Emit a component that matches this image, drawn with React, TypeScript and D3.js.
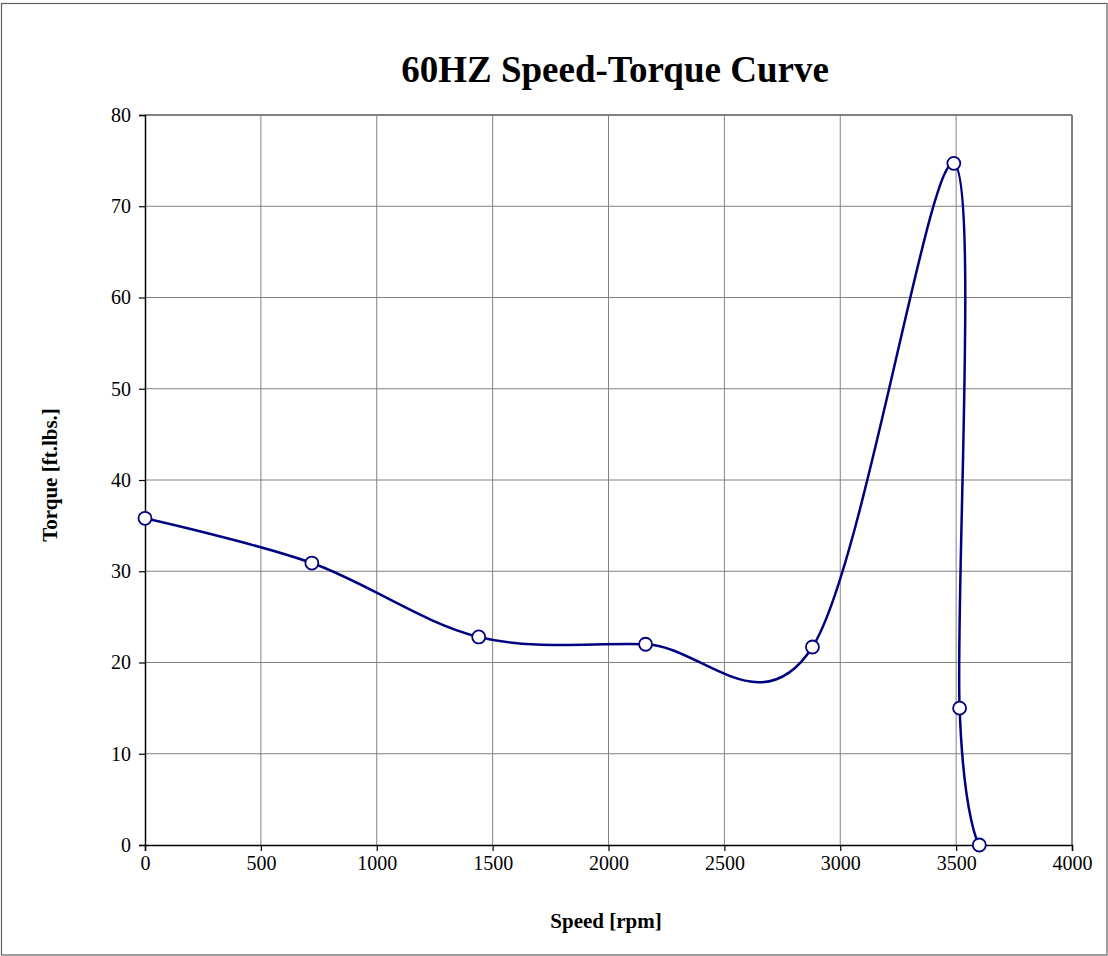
import { useEffect, useRef } from "react";
import * as d3 from "d3";

// Measured points of the 60 Hz curve
const speedRpm = [0, 720, 1440, 2160, 2880, 3490, 3515, 3600];
const torqueFtLbs = [35.8, 30.9, 22.8, 22.0, 21.7, 74.7, 15.0, 0];
const xTicks = [0, 500, 1000, 1500, 2000, 2500, 3000, 3500, 4000];
const yTicks = [0, 10, 20, 30, 40, 50, 60, 70, 80];

const App = () => {
  const svgRef = useRef<SVGSVGElement | null>(null);

  const width = 1108;
  const height = 956;
  const plot = { left: 145, top: 115, right: 1072, bottom: 845 };

  useEffect(() => {
    if (!svgRef.current) return;
    const svg = d3.select(svgRef.current);
    svg.selectAll("*").remove();

    const font = "'Liberation Serif', 'Times New Roman', serif";

    // outer frame
    svg.append("rect")
      .attr("x", 1.5).attr("y", 3.5)
      .attr("width", width - 2.5).attr("height", height - 4.5)
      .attr("fill", "#fff").attr("stroke", "#606060").attr("stroke-width", 1.2);

    const x = d3.scaleLinear().domain([0, 4000]).range([plot.left, plot.right]);
    const y = d3.scaleLinear().domain([0, 80]).range([plot.bottom, plot.top]);

    // grid
    const grid = svg.append("g").attr("stroke", "#808080").attr("stroke-width", 1);
    xTicks.slice(1).forEach((t) => {
      grid.append("line")
        .attr("x1", x(t)).attr("x2", x(t))
        .attr("y1", plot.top).attr("y2", plot.bottom);
    });
    yTicks.slice(1).forEach((t) => {
      grid.append("line")
        .attr("x1", plot.left).attr("x2", plot.right)
        .attr("y1", y(t)).attr("y2", y(t));
    });
    // right and top edges a bit heavier
    grid.append("line").attr("x1", plot.right).attr("x2", plot.right)
      .attr("y1", plot.top).attr("y2", plot.bottom).attr("stroke-width", 2);
    grid.append("line").attr("x1", plot.left).attr("x2", plot.right)
      .attr("y1", plot.top).attr("y2", plot.top).attr("stroke-width", 2);

    // axes
    const xAxis = d3.axisBottom(x).tickValues(xTicks).tickSize(6).tickPadding(5)
      .tickFormat((d) => String(d));
    const yAxis = d3.axisLeft(y).tickValues(yTicks).tickSize(6).tickPadding(8)
      .tickFormat((d) => String(d));

    const gx = svg.append("g").attr("transform", `translate(0,${plot.bottom})`).call(xAxis);
    const gy = svg.append("g").attr("transform", `translate(${plot.left},0)`).call(yAxis);
    [gx, gy].forEach((g) => {
      g.select(".domain").attr("stroke", "#000").attr("stroke-width", 1.5);
      g.selectAll(".tick line").attr("stroke", "#000").attr("stroke-width", 1.2);
      g.selectAll(".tick text")
        .attr("fill", "#000")
        .style("font-family", font)
        .style("font-size", "20px");
    });

    // curve
    const pts = speedRpm.map((s, i) => [s, torqueFtLbs[i]] as [number, number]);
    const line = d3.line<[number, number]>()
      .x((d) => x(d[0]))
      .y((d) => y(d[1]))
      .curve(d3.curveCardinal.tension(0));

    svg.append("path")
      .attr("d", line(pts))
      .attr("fill", "none")
      .attr("stroke", "#000080")
      .attr("stroke-width", 2.5);

    svg.append("g").selectAll("circle").data(pts).join("circle")
      .attr("cx", (d) => x(d[0]))
      .attr("cy", (d) => y(d[1]))
      .attr("r", 6.5)
      .attr("fill", "#fff")
      .attr("stroke", "#000080")
      .attr("stroke-width", 1.8);

    // titles
    svg.append("text")
      .attr("x", 615).attr("y", 82)
      .attr("text-anchor", "middle")
      .style("font-family", font).style("font-weight", "bold").style("font-size", "37px")
      .text("60HZ Speed-Torque Curve");

    svg.append("text")
      .attr("x", 606).attr("y", 928)
      .attr("text-anchor", "middle")
      .style("font-family", font).style("font-weight", "bold").style("font-size", "21px")
      .text("Speed [rpm]");

    svg.append("text")
      .attr("transform", `translate(57,475) rotate(-90)`)
      .attr("text-anchor", "middle")
      .style("font-family", font).style("font-weight", "bold").style("font-size", "21px")
      .text("Torque [ft.lbs.]");
  }, []);

  return (
    <div style={{ position: "absolute", left: 0, top: 0, width: `${width}px`, height: `${height}px`, background: "#fff" }}>
      <svg ref={svgRef} width={width} height={height} viewBox={`0 0 ${width} ${height}`} />
    </div>
  );
};

export default App;
